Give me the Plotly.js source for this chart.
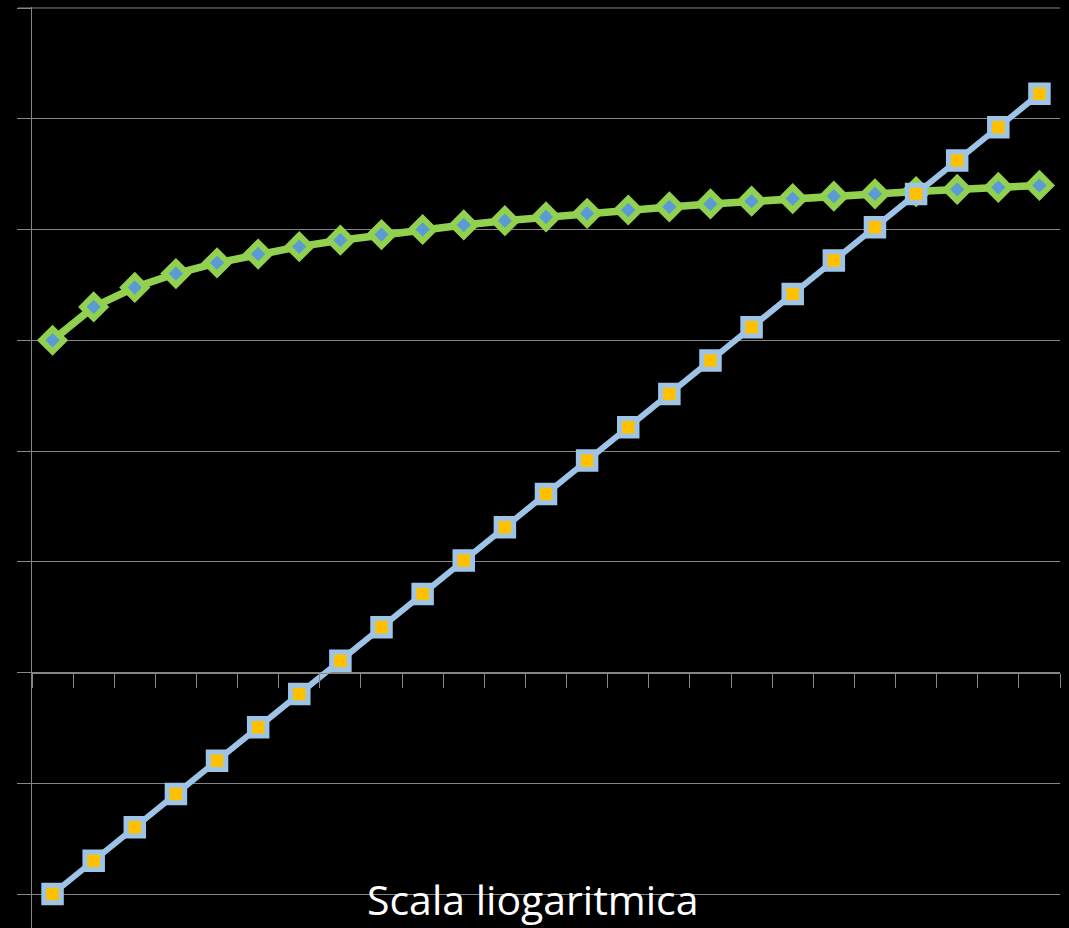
<!DOCTYPE html>
<html>
<head>
<meta charset="utf-8">
<script src="https://cdn.plot.ly/plotly-3.0.1.min.js"></script>
<style>
  html, body { margin: 0; padding: 0; background: #000; }
  #chart { width: 1069px; height: 928px; }
</style>
</head>
<body>
<div id="chart"></div>
<script>
// Step number for each point on the horizontal axis
const steps = [1, 2, 3, 4, 5, 6, 7, 8, 9, 10, 11, 12, 13, 14, 15, 16, 17, 18, 19, 20, 21, 22, 23, 24, 25];

// Linear growth: 100 000 added at each step
const linearValues = [100000, 200000, 300000, 400000, 500000, 600000, 700000, 800000, 900000, 1000000,
  1100000, 1200000, 1300000, 1400000, 1500000, 1600000, 1700000, 1800000, 1900000, 2000000,
  2100000, 2200000, 2300000, 2400000, 2500000];

// Exponential growth: doubling at each step
const doublingValues = [1, 2, 4, 8, 16, 32, 64, 128, 256, 512, 1024, 2048, 4096, 8192, 16384,
  32768, 65536, 131072, 262144, 524288, 1048576, 2097152, 4194304, 8388608, 16777216];

// Tick marks sit between the categories
const categoryBoundaries = [0.5, 1.5, 2.5, 3.5, 4.5, 5.5, 6.5, 7.5, 8.5, 9.5, 10.5, 11.5, 12.5,
  13.5, 14.5, 15.5, 16.5, 17.5, 18.5, 19.5, 20.5, 21.5, 22.5, 23.5, 24.5, 25.5];

const chartTitle = 'Scala liogaritmica';

const gridGray = '#858585';

// log10 range of the value axis
const yMin = -0.307;
const yMax = 8.009;
const topDecade = 8;

const traces = [
  {
    x: steps,
    y: linearValues,
    type: 'scatter',
    mode: 'lines+markers',
    line: { color: '#92D050', width: 7.5 },
    marker: {
      symbol: 'diamond',
      size: 17.5,
      color: '#5B9BD5',
      line: { color: '#92D050', width: 6 }
    },
    hoverinfo: 'x+y'
  },
  {
    x: steps,
    y: doublingValues,
    type: 'scatter',
    mode: 'lines+markers',
    line: { color: '#9DC3E6', width: 6 },
    marker: {
      symbol: 'square',
      size: 17.5,
      color: '#FFC000',
      line: { color: '#9DC3E6', width: 5 }
    },
    hoverinfo: 'x+y'
  }
];

// The top grid line (10^8) lies on the edge of the plot area, where
// Plotly leaves it out, so it is drawn as a shape together with its tick.
const topFrac = (topDecade - yMin) / (yMax - yMin);

const layout = {
  width: 1069,
  height: 928,
  paper_bgcolor: '#000000',
  plot_bgcolor: '#000000',
  showlegend: false,
  margin: { l: 32, r: 9, t: 7, b: 0, pad: 0 },
  xaxis: {
    range: [0.5, 25.5],
    anchor: 'free',
    position: 0.2769,
    showgrid: false,
    zeroline: false,
    showline: true,
    linecolor: gridGray,
    linewidth: 1,
    tickmode: 'array',
    tickvals: categoryBoundaries,
    ticks: 'outside',
    ticklen: 14,
    tickcolor: gridGray,
    tickwidth: 1,
    showticklabels: false,
    fixedrange: true
  },
  yaxis: {
    type: 'log',
    range: [yMin, yMax],
    dtick: 1,
    showgrid: true,
    gridcolor: gridGray,
    gridwidth: 1,
    zeroline: false,
    showline: true,
    linecolor: gridGray,
    linewidth: 1,
    ticks: 'outside',
    ticklen: 14,
    tickcolor: gridGray,
    tickwidth: 1,
    showticklabels: false,
    fixedrange: true
  },
  shapes: [
    {
      type: 'line',
      xref: 'paper',
      yref: 'paper',
      x0: 0,
      x1: 1,
      y0: topFrac,
      y1: topFrac,
      line: { color: gridGray, width: 1 },
      layer: 'below'
    },
    {
      type: 'line',
      xref: 'paper',
      yref: 'paper',
      xsizemode: 'pixel',
      xanchor: 0,
      x0: -14,
      x1: 0,
      y0: topFrac,
      y1: topFrac,
      line: { color: gridGray, width: 1 },
      layer: 'below'
    }
  ],
  annotations: [
    {
      text: chartTitle,
      xref: 'paper',
      yref: 'paper',
      x: 0.487,
      y: 0.0,
      yshift: 0,
      borderpad: 0,
      xanchor: 'center',
      yanchor: 'bottom',
      showarrow: false,
      font: { family: 'Open Sans, Noto Sans, sans-serif', size: 41, color: '#ffffff' }
    }
  ]
};

Plotly.newPlot('chart', traces, layout, { staticPlot: true, displayModeBar: false });
</script>
</body>
</html>
